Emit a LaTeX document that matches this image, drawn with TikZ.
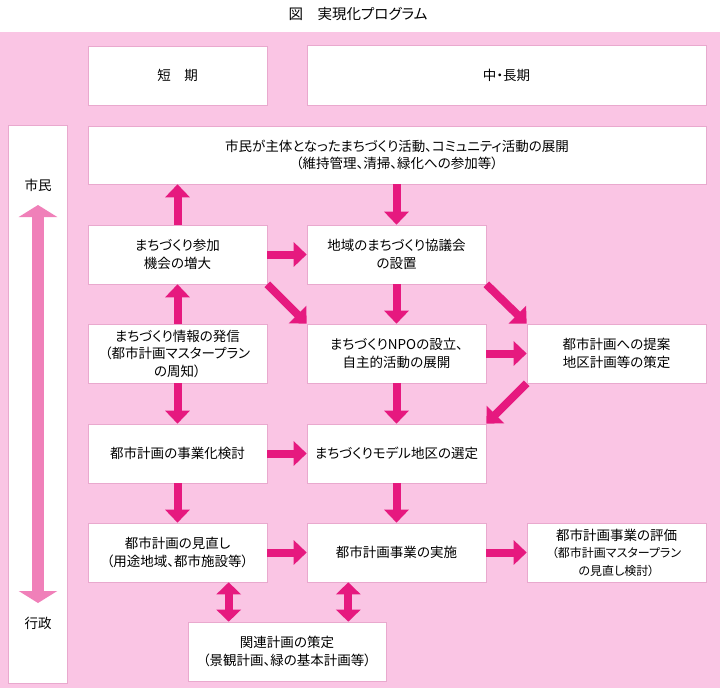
\documentclass[tikz,border=0pt]{standalone}
\usepackage{fontspec}
\newfontfamily\jpfont[RawFeature=+palt]{Noto Sans CJK JP}
\usetikzlibrary{arrows.meta,positioning}
\definecolor{bgpink}{HTML}{FAC5E4}
\definecolor{boxline}{HTML}{E9A9CE}
\definecolor{arrmag}{HTML}{E6197F}
\definecolor{bigpink}{HTML}{F080B9}

\begin{document}
\begin{tikzpicture}[x=1pt,y=-1pt,every node/.style={font=\jpfont\fontsize{13.5}{17.5}\selectfont,align=center},
  box/.style={draw=boxline,fill=white,line width=.6pt,minimum width=179pt,minimum height=59pt,inner sep=0pt},
  arr/.style={draw=arrmag,line width=8pt,-{Triangle[width=24pt,length=13pt]}},
  darr/.style={draw=arrmag,line width=8pt,{Triangle[width=24pt,length=12pt]}-{Triangle[width=24pt,length=12pt]}},
  bigarr/.style={draw=bigpink,line width=12pt,{Triangle[width=38pt,length=12pt]}-{Triangle[width=38pt,length=12pt]}}]
\useasboundingbox (0,0) rectangle (720,688);
\fill[bgpink] (0,32) rectangle (720,688);
\node[font=\jpfont\fontsize{14.5}{17}\selectfont](title) at (358,14){図　実現化プログラム};
% headers
\node[box](sh) at (177.5,75.5){短　期};\node[box,minimum width=399pt,minimum height=60pt](ml) at (506.5,75.5){中・長期};
% citizen / administration column
\node[box,minimum width=59pt,minimum height=558pt](side) at (38,404){};
\node(shimin) at (38,185){市民};\node(gyosei) at (38,623){行政};
\coordinate(up) at (38,205);\coordinate(dn) at (38,603);
\draw[bigarr](up)--(dn);
% boxes
\node[box,minimum width=618pt,minimum height=58pt](top) at (397,155){市民が主体となったまちづくり活動、コミュニティ活動の展開\\（維持管理、清掃、緑化への参加等）};
\node[box](p1) at (177.5,254.5){まちづくり参加\\機会の増大};\node[box](k1) at (396.5,254.5){地域のまちづくり協議会\\の設置};
\node[box](p2) at (177.5,353.5){まちづくり情報の発信\\（都市計画マスタープラン\\の周知）};\node[box](k2) at (396.5,353.5){まちづくりNPOの設立、\\自主的活動の展開};\node[box](r1) at (616.5,353.5){都市計画への提案\\地区計画等の策定};
\node[box](p3) at (177.5,453.5){都市計画の事業化検討};\node[box](k3) at (396.5,453.5){まちづくりモデル地区の選定};
\node[box](p4) at (177.5,552.5){都市計画の見直し\\（用途地域、都市施設等）};\node[box](k4) at (396.5,552.5){都市計画事業の実施};
\node[box](r2) at (616.5,552.5){都市計画事業の評価\\{\fontsize{12}{17}\selectfont（都市計画マスタープラン}\\{\fontsize{12}{17}\selectfont の見直し検討）}};
\node[box,minimum width=198pt](rel) at (287,651.5){関連計画の策定\\（景観計画、緑の基本計画等）};
% arrows
\draw[arr](p1)--(p1|-top.south);\draw[arr](top.south-|k1)--(k1);\draw[arr](p1)--(k1);
\draw[arr](p1.south east)--(k2.north west);\draw[arr](p2)--(p1);\draw[arr](k1)--(k2);
\draw[arr](k1.south east)--(r1.north west);\draw[arr](k2)--(r1);
\draw[arr](p2)--(p3);\draw[arr](k2)--(k3);\draw[arr](r1.south west)--(k3.north east);
\draw[arr](p3)--(k3);\draw[arr](p3)--(p4);\draw[arr](k3)--(k4);
\draw[arr](p4)--(k4);\draw[arr](k4)--(r2);
\draw[darr]([xshift=41pt]rel.north west)--([xshift=41pt]rel.north west|-p4.south);
\draw[darr]([xshift=-38pt]rel.north east)--([xshift=-38pt]rel.north east|-k4.south);
\end{tikzpicture}
\end{document}
